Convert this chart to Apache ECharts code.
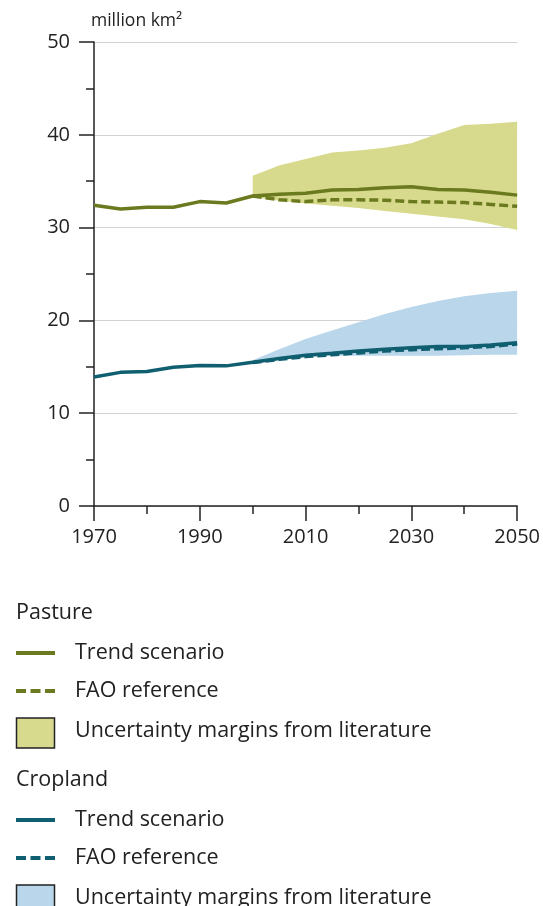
<!DOCTYPE html>
<html>
<head>
<meta charset="utf-8">
<script src="https://cdn.jsdelivr.net/npm/echarts@6/dist/echarts.min.js"></script>
<style>
  html, body { margin: 0; padding: 0; background: #fff; }
  #chart { width: 543px; height: 906px; }
</style>
</head>
<body>
<div id="chart"></div>
<script>
// years every 5 from 1970 to 2050
var years = [1970, 1975, 1980, 1985, 1990, 1995, 2000, 2005, 2010, 2015, 2020, 2025, 2030, 2035, 2040, 2045, 2050];

var pastureTrend = [32.4, 32.0, 32.2, 32.2, 32.8, 32.65, 33.4, 33.6, 33.7, 34.05, 34.1, 34.3, 34.4, 34.1, 34.05, 33.8, 33.5];
var pastureFao = [null, null, null, null, null, null, 33.4, 33.0, 32.8, 33.0, 33.0, 32.95, 32.8, 32.75, 32.7, 32.5, 32.3];
var pastureLow = [null, null, null, null, null, null, 33.3, 32.9, 32.6, 32.35, 32.1, 31.8, 31.5, 31.2, 30.9, 30.4, 29.75];
var pastureHigh = [null, null, null, null, null, null, 35.6, 36.7, 37.4, 38.1, 38.3, 38.6, 39.1, 40.1, 41.05, 41.2, 41.4];

var cropTrend = [13.9, 14.4, 14.5, 14.95, 15.15, 15.1, 15.5, 15.9, 16.25, 16.45, 16.7, 16.9, 17.05, 17.2, 17.2, 17.35, 17.6];
var cropFao = [null, null, null, null, null, null, 15.45, 15.8, 16.1, 16.3, 16.5, 16.7, 16.85, 16.95, 17.05, 17.2, 17.45];
var cropLow = [null, null, null, null, null, null, 15.4, 15.75, 16.05, 16.2, 16.2, 16.2, 16.2, 16.2, 16.25, 16.3, 16.3];
var cropHigh = [null, null, null, null, null, null, 15.7, 16.9, 18.0, 18.9, 19.8, 20.7, 21.45, 22.1, 22.6, 22.95, 23.2];

var olive = "#6b7a1f";
var oliveFill = "#d7d98c";
var teal = "#0f5f70";
var blueFill = "#bad6ea";
var font = "Open Sans";
var legendFont = "21.5px '" + font + "'";

function pairs(vals) {
  return years.map(function (y, i) { return [y, vals[i]]; });
}

// band between low and high, one polygon through the axes' coord()
function band(hi, lo, fill) {
  var pts = [];
  years.forEach(function (y, i) { if (hi[i] != null) pts.push([y, hi[i], lo[i]]); });
  return {
    type: "custom",
    silent: true,
    data: pts,
    encode: { x: 0, y: [1, 2] },
    renderItem: function (params, api) {
      if (params.dataIndex !== 0) return;
      var poly = [];
      pts.forEach(function (p) { poly.push(api.coord([p[0], p[1]])); });
      pts.slice().reverse().forEach(function (p) { poly.push(api.coord([p[0], p[2]])); });
      return { type: "polygon", shape: { points: poly }, style: { fill: fill } };
    }
  };
}

var chart = echarts.init(document.getElementById("chart"));

function txt(x, y, s) {
  return { type: "text", style: { text: s, x: x, y: y, font: legendFont, fill: "#222", verticalAlign: "middle" } };
}

function legendBlock(top, title, color, fill) {
  return [
    txt(16, top, title),
    { type: "rect", shape: { x: 16, y: top + 38, width: 39, height: 4 }, style: { fill: color } },
    txt(75, top + 40, "Trend scenario"),
    { type: "line", shape: { x1: 16, y1: top + 78, x2: 56, y2: top + 78 }, style: { stroke: color, lineWidth: 4, lineDash: [10, 4.5] } },
    txt(75, top + 78, "FAO reference"),
    { type: "rect", shape: { x: 16.5, y: top + 105, width: 38, height: 30 }, style: { fill: fill, stroke: "#222", lineWidth: 1.5 } },
    txt(75, top + 118, "Uncertainty margins from literature")
  ];
}

var option = {
  animation: false,
  textStyle: { fontFamily: font },
  grid: { left: 94, right: 24, top: 42, height: 464 },
  xAxis: {
    type: "value",
    min: 1970,
    max: 2050,
    interval: 20,
    axisLine: { lineStyle: { color: "#222", width: 1.5 } },
    axisTick: { length: 15, lineStyle: { color: "#222", width: 1.5 } },
    minorTick: { show: true, splitNumber: 2, length: 8, lineStyle: { color: "#222", width: 1.5 } },
    axisLabel: { color: "#222", fontSize: 20, margin: 21, formatter: function (v) { return String(v); } },
    splitLine: { show: false }
  },
  yAxis: {
    type: "value",
    min: 0,
    max: 50,
    interval: 10,
    name: "million km²",
    nameLocation: "end",
    nameGap: 12,
    nameTextStyle: { color: "#222", fontSize: 17.5, align: "left", padding: [0, 0, 0, -3] },
    axisLine: { show: true, lineStyle: { color: "#222", width: 1.5 } },
    axisTick: { show: true, length: 15, lineStyle: { color: "#222", width: 1.5 } },
    minorTick: { show: true, splitNumber: 2, length: 8, lineStyle: { color: "#222", width: 1.5 } },
    axisLabel: { color: "#222", fontSize: 20, margin: 24 },
    splitLine: { show: true, lineStyle: { color: "#d2d2d2", width: 1 } }
  },
  series: [
    band(pastureHigh, pastureLow, oliveFill),
    band(cropHigh, cropLow, blueFill),
    { name: "Pasture FAO", type: "line", data: pairs(pastureFao), symbol: "none", lineStyle: { color: olive, width: 3.5, type: [9, 4] } },
    { name: "Pasture trend", type: "line", data: pairs(pastureTrend), symbol: "none", lineStyle: { color: olive, width: 3.5 } },
    { name: "Cropland FAO", type: "line", data: pairs(cropFao), symbol: "none", lineStyle: { color: teal, width: 3.5, type: [9, 4] } },
    { name: "Cropland trend", type: "line", data: pairs(cropTrend), symbol: "none", lineStyle: { color: teal, width: 3.5 } }
  ],
  graphic: legendBlock(613, "Pasture", olive, oliveFill).concat(legendBlock(780, "Cropland", teal, blueFill))
};

chart.setOption(option);
</script>
</body>
</html>
